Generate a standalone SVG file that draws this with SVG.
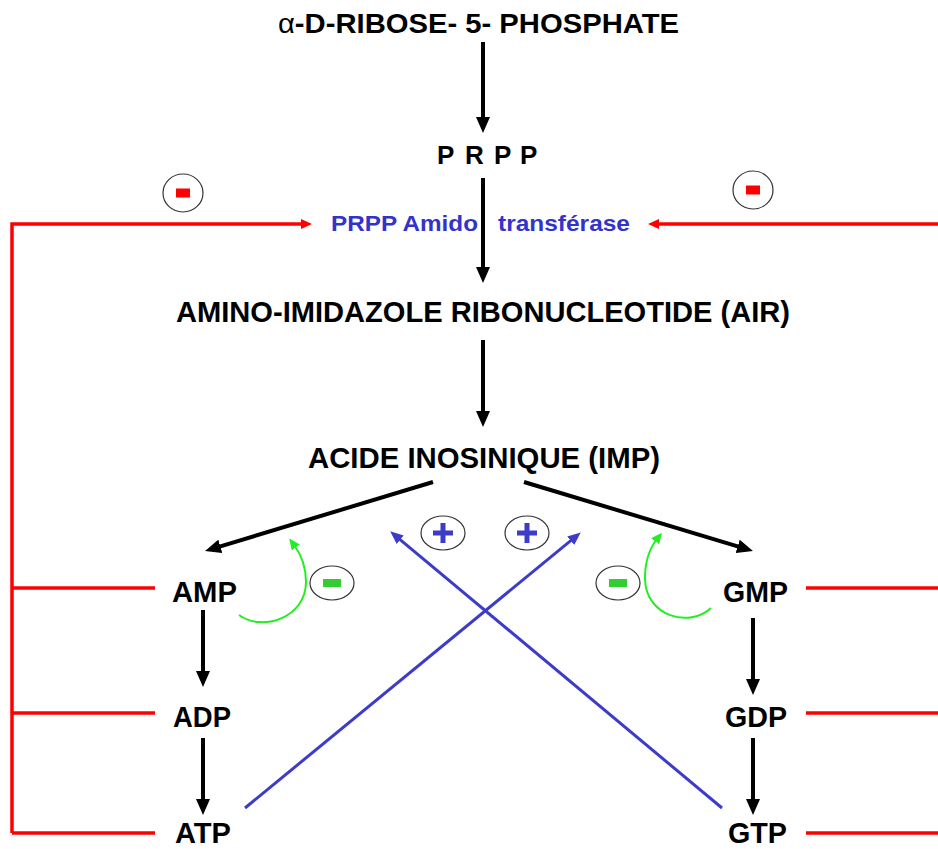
<svg xmlns="http://www.w3.org/2000/svg" width="938" height="849" viewBox="0 0 938 849">
<style>
text{font-family:"Liberation Sans",Arial,sans-serif;font-weight:bold;fill:#000}
.big{font-size:30px}
.enz{font-size:22px;fill:#3333cc}
.blk{stroke:#000;stroke-width:4;fill:none}
.red{stroke:#ff0000;stroke-width:3.5;fill:none}
.blue{stroke:#3c3cc8;stroke-width:3;fill:none}
.grn{stroke:#22ee22;stroke-width:2;fill:none}
.ring{fill:#fff;stroke:#333;stroke-width:1.2}
</style>
<defs>
<marker id="mb" markerUnits="userSpaceOnUse" markerWidth="16" markerHeight="14" refX="6" refY="7" orient="auto"><path d="M0,0 L16,7 L0,14 z" fill="#000"/></marker>
<marker id="mr" markerUnits="userSpaceOnUse" markerWidth="11" markerHeight="10" refX="3" refY="5" orient="auto"><path d="M0,0 L11,5 L0,10 z" fill="#ff0000"/></marker>
<marker id="mu" markerUnits="userSpaceOnUse" markerWidth="13" markerHeight="11" refX="4" refY="5.5" orient="auto"><path d="M0,0 L13,5.5 L0,11 z" fill="#3c3cc8"/></marker>
<marker id="mg" markerUnits="userSpaceOnUse" markerWidth="11" markerHeight="10" refX="3" refY="5" orient="auto"><path d="M0,0 L11,5 L0,10 z" fill="#22ee22"/></marker>
</defs>

<g id="connectors">
<line class="blk" x1="483" y1="42" x2="483" y2="123" marker-end="url(#mb)"/>
<line class="blk" x1="483" y1="178" x2="483" y2="273" marker-end="url(#mb)"/>
<line class="blk" x1="483" y1="340" x2="483" y2="417" marker-end="url(#mb)"/>
<line class="blk" x1="433" y1="482" x2="214.6" y2="548.1" stroke-width="4.5" marker-end="url(#mb)"/>
<line class="blk" x1="524" y1="482" x2="743.4" y2="548.1" stroke-width="4.5" marker-end="url(#mb)"/>
<line class="blk" x1="203" y1="610" x2="203" y2="677" marker-end="url(#mb)"/>
<line class="blk" x1="203" y1="738" x2="203" y2="805" marker-end="url(#mb)"/>
<line class="blk" x1="753" y1="618" x2="753" y2="685" marker-end="url(#mb)"/>
<line class="blk" x1="753" y1="738" x2="753" y2="805" marker-end="url(#mb)"/>
<path class="red" d="M12,833 L12,224 L304,224" marker-end="url(#mr)"/>
<line class="red" x1="12" y1="588" x2="155" y2="588"/>
<line class="red" x1="12" y1="713" x2="155" y2="713"/>
<line class="red" x1="12" y1="833" x2="155" y2="833"/>
<line class="red" x1="938" y1="224" x2="656" y2="224" marker-end="url(#mr)"/>
<line class="red" x1="806" y1="588" x2="938" y2="588"/>
<line class="red" x1="806" y1="713" x2="938" y2="713"/>
<line class="red" x1="806" y1="833" x2="938" y2="833"/>
<line class="blue" x1="245" y1="808" x2="573.8" y2="538.1" marker-end="url(#mu)"/>
<line class="blue" x1="722" y1="808" x2="397.1" y2="537.1" marker-end="url(#mu)"/>
<path class="grn" d="M239,615 C262,632 306,618 306,582 C306,565 300,553 294,545" marker-end="url(#mg)"/>
<path class="grn" d="M711,608 C690,628 645,617 645,578 C645,560 650,548 657,539" marker-end="url(#mg)"/>
</g>

<g id="signs">
<g id="minus-red-left"><ellipse class="ring" cx="183" cy="193" rx="20" ry="19"/><rect x="176" y="188.5" width="14" height="9" fill="#ff0000"/></g>
<g id="minus-red-right"><ellipse class="ring" cx="753" cy="190" rx="20" ry="19"/><rect x="746" y="185.5" width="14" height="9" fill="#ff0000"/></g>
<g id="plus-left"><ellipse class="ring" cx="443" cy="533" rx="22" ry="17"/><rect x="433" y="530.5" width="20" height="5" fill="#3c3cc8"/><rect x="440.5" y="523" width="5" height="20" fill="#3c3cc8"/></g>
<g id="plus-right"><ellipse class="ring" cx="527" cy="533" rx="22" ry="17"/><rect x="517" y="530.5" width="20" height="5" fill="#3c3cc8"/><rect x="524.5" y="523" width="5" height="20" fill="#3c3cc8"/></g>
<g id="minus-green-left"><ellipse class="ring" cx="332" cy="583" rx="22" ry="17"/><rect x="323" y="579" width="18" height="8" fill="#33cc33"/></g>
<g id="minus-green-right"><ellipse class="ring" cx="618" cy="583" rx="22" ry="17"/><rect x="609" y="579" width="18" height="8" fill="#33cc33"/></g>
</g>

<g id="ribose5p"><text x="278" y="33" font-size="28" textLength="401" lengthAdjust="spacingAndGlyphs"><tspan font-weight="normal">α</tspan>-D-RIBOSE- 5- PHOSPHATE</text></g>
<g id="prpp"><text x="437 465 494 520" y="164" font-size="26">PRPP</text></g>
<g id="enzyme"><text class="enz" x="331" y="231" textLength="147" lengthAdjust="spacingAndGlyphs">PRPP Amido</text><text class="enz" x="498" y="231" textLength="132" lengthAdjust="spacingAndGlyphs">transférase</text></g>
<g id="air"><text class="big" x="176" y="322" textLength="614" lengthAdjust="spacingAndGlyphs">AMINO-IMIDAZOLE RIBONUCLEOTIDE (AIR)</text></g>
<g id="imp"><text class="big" x="308" y="468" textLength="352" lengthAdjust="spacingAndGlyphs">ACIDE INOSINIQUE (IMP)</text></g>
<g id="amp"><text class="big" x="172" y="602" textLength="65" lengthAdjust="spacingAndGlyphs">AMP</text></g>
<g id="adp"><text class="big" x="173" y="727" textLength="58" lengthAdjust="spacingAndGlyphs">ADP</text></g>
<g id="atp"><text class="big" x="175" y="843" font-size="28" textLength="56" lengthAdjust="spacingAndGlyphs">ATP</text></g>
<g id="gmp"><text class="big" x="723" y="602" textLength="65" lengthAdjust="spacingAndGlyphs">GMP</text></g>
<g id="gdp"><text class="big" x="725" y="727" textLength="62" lengthAdjust="spacingAndGlyphs">GDP</text></g>
<g id="gtp"><text class="big" x="728" y="843" font-size="28" textLength="59" lengthAdjust="spacingAndGlyphs">GTP</text></g>
</svg>
